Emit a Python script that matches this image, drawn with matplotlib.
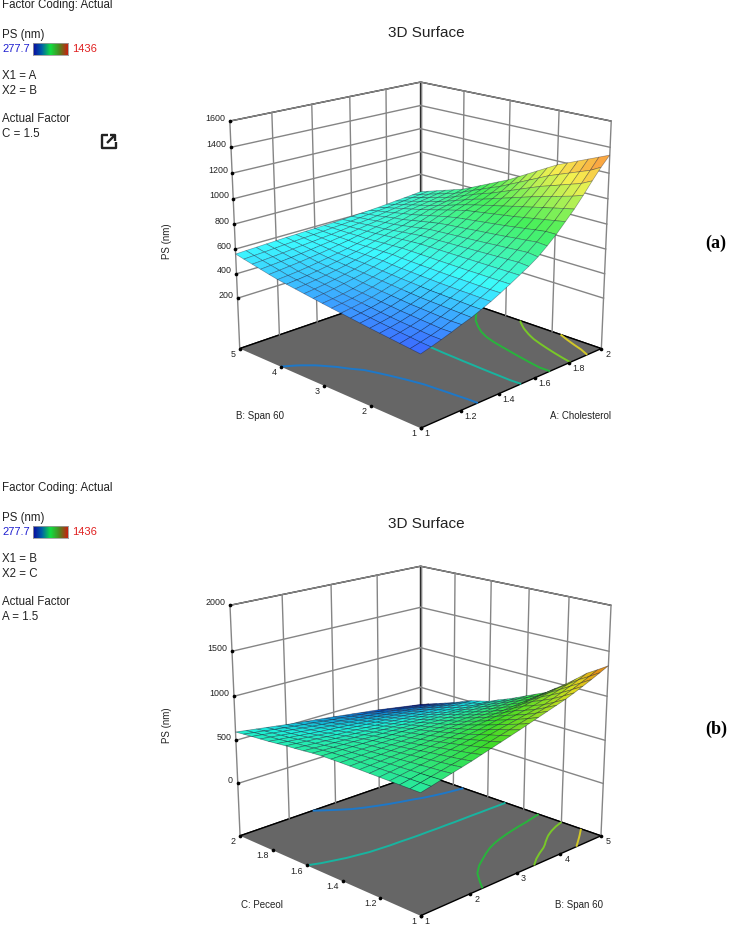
import numpy as np
import matplotlib
matplotlib.use("Agg")
import matplotlib.pyplot as plt
from matplotlib.colors import LinearSegmentedColormap, Normalize
from matplotlib.lines import Line2D
from mpl_toolkits.mplot3d import proj3d

plt.rcParams['font.family'] = ['Liberation Sans', 'DejaVu Sans']

W, H = 730, 928

# ---------- data ----------
A_values = [1 + 0.05 * i for i in range(21)]
B_values = [1 + 0.2 * i for i in range(21)]
C_values = [1 + 0.05 * i for i in range(21)]

# PS (nm): rows = Span 60 (1..5), columns = Cholesterol (1..2), Peceol fixed at 1.5
ps_ab = [
 [330,352,376,402,430,455,487,520,558,598,640,682,730,790,855,930,1005,1090,1180,1265,1340],
 [339,357,377,400,428,458,488,521,557,598,640,689,740,796,855,916,988,1062,1140,1222,1306],
 [348,365,383,406,432,461,491,523,558,598,640,686,735,787,844,902,970,1040,1114,1192,1272],
 [357,372,390,411,437,464,493,524,560,599,640,684,729,779,832,888,952,1018,1088,1162,1238],
 [366,380,396,417,441,467,496,526,561,599,640,681,724,770,821,874,934,996,1062,1132,1204],
 [375,388,403,422,445,470,498,528,562,600,640,678,718,762,810,860,916,974,1036,1102,1170],
 [385,397,411,430,452,476,503,532,564,601,640,676,713,755,800,848,898,949,1005,1064,1126],
 [395,406,420,437,459,482,508,535,567,602,640,673,708,748,791,836,879,924,974,1027,1082],
 [405,416,428,445,465,488,512,539,569,604,640,671,704,740,781,824,861,900,942,989,1038],
 [415,425,437,452,472,494,517,542,572,605,640,668,699,733,772,812,842,875,911,952,994],
 [425,434,445,460,479,500,522,546,574,606,640,666,694,726,762,800,824,850,880,914,950],
 [436,447,459,473,489,506,529,553,579,607,636,662,689,717,748,780,804,829,855,884,914],
 [447,457,468,481,496,512,533,554,578,603,630,653,677,703,731,760,781,802,826,851,878],
 [458,467,477,489,503,518,536,555,577,600,624,644,665,689,714,740,757,776,796,819,842],
 [469,477,486,497,510,524,540,556,575,595,617,635,653,674,696,720,734,749,767,786,806],
 [480,487,495,505,517,530,543,557,573,591,610,625,641,659,679,700,711,723,737,753,770],
 [495,503,511,519,529,539,551,564,577,592,606,620,634,650,666,682,694,705,718,731,745],
 [511,518,524,532,540,549,559,568,579,590,602,614,625,638,651,665,675,685,696,708,720],
 [527,532,538,544,552,559,566,573,580,589,598,607,616,625,636,647,656,664,674,684,695],
 [543,548,552,558,564,569,574,578,583,589,594,601,608,616,623,630,638,646,654,662,670],
 [560,564,567,571,574,578,580,583,585,588,590,594,598,603,607,612,618,625,631,638,645],
]

# PS (nm): rows = Peceol (1..2), columns = Span 60 (1..5), Cholesterol fixed at 1.5
ps_bc = [
 [662,689,717,745,772,800,831,862,893,924,955,988,1021,1054,1087,1120,1160,1202,1246,1292,1340],
 [664,688,712,736,760,783,810,838,865,893,920,948,975,1003,1030,1058,1095,1135,1177,1221,1268],
 [666,687,708,729,750,770,794,818,842,866,890,912,934,956,978,1000,1034,1071,1112,1155,1200],
 [668,686,704,722,739,757,777,796,816,835,855,876,896,917,937,958,985,1014,1044,1076,1108],
 [670,685,700,715,730,745,760,775,790,805,820,840,860,880,900,920,940,960,980,1000,1020],
 [672,684,696,707,719,730,742,755,767,780,792,807,821,836,850,865,880,895,910,925,940],
 [674,682,690,699,707,715,725,735,745,755,765,774,783,792,801,810,820,830,840,850,860],
 [675,680,686,691,697,702,709,716,723,730,737,744,750,757,763,770,778,786,794,802,810],
 [676,679,682,684,687,690,694,698,702,706,710,714,718,722,726,730,736,742,748,754,760],
 [676,677,677,678,678,679,680,682,683,685,686,688,690,691,693,695,698,700,703,705,708],
 [676,674,673,671,670,668,667,666,666,665,664,664,663,663,662,662,662,661,661,660,660],
 [670,666,663,659,656,652,650,647,645,642,640,638,636,634,632,630,628,625,623,620,618],
 [660,655,650,645,640,635,631,627,623,619,615,611,607,603,599,595,590,585,580,575,570],
 [652,645,638,631,624,617,612,606,601,595,590,584,579,573,568,562,558,554,550,546,542],
 [645,636,627,618,609,600,593,586,579,572,565,558,551,544,537,530,527,524,521,518,515],
 [635,624,614,603,593,582,574,566,558,550,542,535,527,520,512,505,498,492,485,479,472],
 [625,613,601,589,577,565,556,547,538,529,520,512,504,496,488,480,470,460,450,440,430],
 [618,605,592,578,565,552,542,531,521,510,500,490,481,471,462,452,440,428,416,404,392],
 [612,598,583,569,554,540,528,516,504,492,480,469,458,447,436,425,411,397,383,369,355],
 [604,589,574,558,543,528,515,502,489,476,463,450,437,424,411,398,382,366,350,334,318],
 [595,579,563,547,531,515,501,487,473,459,445,430,415,400,385,370,352,334,316,298,280],
]

contour_levels = [480, 660, 840, 1020, 1200]
contour_colors = ['#1e78c8', '#18b4a0', '#28b43c', '#78c828', '#d2c828']
ps_min, ps_max = 277.7, 1436

ticks_A = [1, 1.2, 1.4, 1.6, 1.8, 2]
ticks_B = [1, 2, 3, 4, 5]
ticks_C = [1, 1.2, 1.4, 1.6, 1.8, 2]
zticks_a = [200, 400, 600, 800, 1000, 1200, 1400, 1600]
zticks_b = [0, 500, 1000, 1500, 2000]

colors_a = ['#3c46ff', '#3cfaff', '#46f05a', '#f5f050', '#ff5a32']
colors_b = ['#0000c8', '#1ef0dc', '#3cdc28', '#dcdc1e', '#e63c0a']
legend_colors = ['#0a0aa0', '#0060a8', '#10e040', '#4a8a20', '#c82010']


def fx(x):
    return x / W


def fy(y):
    return 1 - y / H


def tick_text(ax, s, x, y, z, dx, dy):
    px, py, _ = proj3d.proj_transform(x, y, z, ax.get_proj())
    ax.annotate(s, xy=(px, py), xytext=(dx, -dy), textcoords='offset pixels', fontsize=6.4,
                color='#222222', ha='center', va='center', annotation_clip=False, zorder=5)


def surface_panel(fig, rect_px, xv, yv, zz, xticks, yticks, zticks, zlim, colors, aspect, elev, focal, mesh):
    left, bottom, size = rect_px
    ax = fig.add_axes([left / W, bottom / H, size / W, size / H], projection='3d',
                      computed_zorder=False)
    ax.patch.set_alpha(0)
    ax.set_box_aspect((1, 1, aspect))
    ax.view_init(elev=elev, azim=-135)
    ax.set_proj_type('persp', focal_length=focal)
    ax.set_xlim(min(xv), max(xv), view_margin=0)
    ax.set_ylim(min(yv), max(yv), view_margin=0)
    ax.set_zlim(zlim[0], zlim[1], view_margin=0)
    ax.grid(False)
    ax.xaxis.set_pane_color((1, 1, 1, 1))
    ax.yaxis.set_pane_color((1, 1, 1, 1))
    ax.zaxis.set_pane_color('#666666')
    for axis in (ax.xaxis, ax.yaxis, ax.zaxis):
        axis.pane.set_edgecolor((0, 0, 0, 0))
        axis.line.set_color((0, 0, 0, 0))
        axis._axinfo['tick']['inward_factor'] = 0
        axis._axinfo['tick']['outward_factor'] = 0
    ax.set_xticks(xticks)
    ax.set_yticks(yticks)
    ax.set_zticks(zticks)
    ax.xaxis.set_ticklabels([])
    ax.yaxis.set_ticklabels([])
    ax.zaxis.set_ticklabels([])

    x0, x1 = min(xv), max(xv)
    y0, y1 = min(yv), max(yv)
    grid_style = dict(color='#858585', lw=1.0, zorder=1)
    for z in zticks:
        ax.plot([x0, x1], [y1, y1], [z, z], **grid_style)
        ax.plot([x1, x1], [y0, y1], [z, z], **grid_style)
    for x in xticks:
        ax.plot([x, x], [y1, y1], [zlim[0], zlim[1]], **grid_style)
    for y in yticks:
        ax.plot([x1, x1], [y, y], [zlim[0], zlim[1]], **grid_style)

    X, Y = np.meshgrid(xv, yv)
    Z = np.array(zz, dtype=float)
    ax.contour(X, Y, Z, levels=contour_levels, colors=contour_colors, linewidths=1.4,
               zdir='z', offset=zlim[0], zorder=2)

    dot = dict(color='black', s=7, depthshade=False, zorder=2.5, linewidths=0)
    ax.scatter(xticks, [y0] * len(xticks), [zlim[0]] * len(xticks), **dot)
    ax.scatter([x0] * len(yticks), yticks, [zlim[0]] * len(yticks), **dot)
    ax.scatter([x0] * len(zticks), [y1] * len(zticks), zticks, **dot)

    cmap = LinearSegmentedColormap.from_list('ps', colors)
    norm = Normalize(ps_min, ps_max)
    mid = 0.25 * (Z[:-1, :-1] + Z[1:, :-1] + Z[:-1, 1:] + Z[1:, 1:])
    ax.plot_surface(X, Y, Z, rstride=1, cstride=1, facecolors=cmap(norm(mid)), shade=False,
                    edgecolor=(0, 0, 0.1, mesh), linewidth=0.5, antialiased=True, zorder=3)

    for t in xticks:
        s = f'{t:g}'
        tick_text(ax, s, t, y0, zlim[0], 6.7 if len(s) == 1 else 10, 4.7)
    for t in yticks:
        s = f'{t:g}'
        tick_text(ax, s, x0, t, zlim[0], -6.7 if len(s) == 1 else -10, 4.7)
    for t in zticks:
        s = f'{t:g}'
        tick_text(ax, s, x0, y1, t, -5 - 2.3 * len(s), -4)
    return ax


def legend_block(fig, dy, x1, x2, factor):
    style = dict(fontsize=8.3, color='#222222', va='center', ha='left')
    fig.text(fx(2), fy(5 + dy), 'Factor Coding: Actual', **style)
    fig.text(fx(2), fy(35 + dy), 'PS (nm)', **style)
    fig.text(fx(2), fy(49 + dy), f'{ps_min:g}', fontsize=8, color='#2020d0', va='center', ha='left')
    fig.text(fx(72), fy(49 + dy), f'{ps_max:g}', fontsize=8, color='#e02020', va='center', ha='left')
    fig.text(fx(2), fy(76 + dy), x1, **style)
    fig.text(fx(2), fy(91 + dy), x2, **style)
    fig.text(fx(2), fy(119 + dy), 'Actual Factor', **style)
    fig.text(fx(2), fy(134 + dy), factor, **style)
    bar = fig.add_axes([33 / W, fy(56 + dy), 35 / W, 12 / H])
    bar.imshow(np.linspace(0, 1, 64).reshape(1, -1), aspect='auto',
               cmap=LinearSegmentedColormap.from_list('leg', legend_colors))
    bar.set_xticks([])
    bar.set_yticks([])
    for s in bar.spines.values():
        s.set_color('#9a9a9a')
        s.set_linewidth(0.6)


fig = plt.figure(figsize=(W / 100, H / 100), dpi=100, facecolor='white')

surface_panel(fig, (200.4, 469, 428.7), A_values, B_values, ps_ab, ticks_A, ticks_B, zticks_a,
              (-220, 1600), colors_a, 0.911, 18.1, 0.602, 0.36)
surface_panel(fig, (199.7, -17.5, 430), B_values, C_values, ps_bc, ticks_B, ticks_C, zticks_b,
              (-620, 2000), colors_b, 0.925, 18.2, 0.60, 0.42)

legend_block(fig, 0, 'X1 = A', 'X2 = B', 'C = 1.5')
legend_block(fig, 483, 'X1 = B', 'X2 = C', 'A = 1.5')

title = dict(fontsize=11, color='#222222', ha='center', va='center')
fig.text(fx(426), fy(33), '3D Surface', **title)
fig.text(fx(426), fy(524), '3D Surface', **title)

lab = dict(fontsize=7, color='#222222', ha='center', va='center')
fig.text(fx(167), fy(241), 'PS (nm)', rotation=90, **lab)
fig.text(fx(260), fy(416), 'B: Span 60', **lab)
fig.text(fx(580), fy(416), 'A: Cholesterol', **lab)
fig.text(fx(167), fy(725), 'PS (nm)', rotation=90, **lab)
fig.text(fx(262), fy(905), 'C: Peceol', **lab)
fig.text(fx(579), fy(905), 'B: Span 60', **lab)

tag = dict(fontsize=13, fontweight='bold', family='Liberation Serif', color='black',
           ha='center', va='center')
fig.text(fx(716), fy(243), '(a)', **tag)
fig.text(fx(716), fy(729), '(b)', **tag)

# export icon
icon = dict(color='#222222', lw=1.7, solid_capstyle='butt')
for xs, ys in [((108, 102, 102, 116, 116), (136, 136, 149, 149, 143)),
               ((107, 115), (144, 136)),
               ((110, 115.5, 115.5), (136, 136, 141.5))]:
    fig.add_artist(Line2D([fx(v) for v in xs], [fy(v) for v in ys], **icon))

fig.savefig('out.png', dpi=100)
